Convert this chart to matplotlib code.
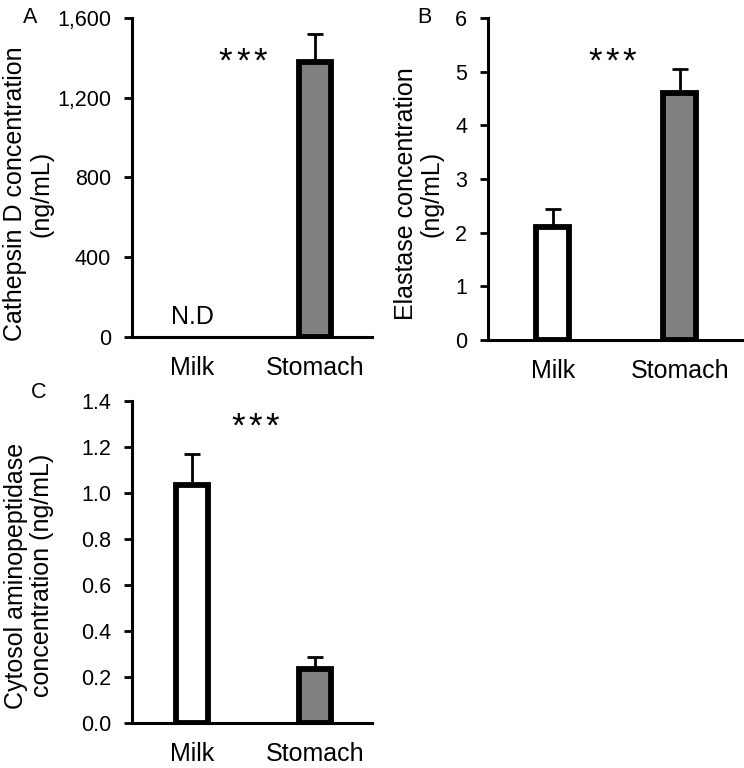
import matplotlib.pyplot as plt
from matplotlib.ticker import StrMethodFormatter

plt.rcParams['font.family'] = ['Liberation Sans', 'DejaVu Sans']
plt.rcParams['font.size'] = 17

# data
groups = ['Milk', 'Stomach']
bar_colors = ['white', '#808080']

cathepsin = [0, 1380]
cathepsin_err = [0, 140]
elastase = [2.10, 4.61]
elastase_err = [0.34, 0.44]
aminopep = [1.033, 0.233]
aminopep_err = [0.137, 0.054]

fig = plt.figure(figsize=(7.44, 7.68), dpi=100)


def draw_panel(rect, values, errs, ymax, ystep, fmt, ylabel, label_pos, letter, letter_pos,
               stars_pos, xlim):
    ax = fig.add_axes(rect)
    for i, (v, e) in enumerate(zip(values, errs)):
        if v == 0:
            # not detected
            ax.text(i, ymax * 0.0625, 'N.D', ha='center', va='center', fontsize=18)
            continue
        ax.errorbar(i, v, yerr=[[0], [e]], fmt='none', ecolor='black',
                    elinewidth=2.0, capsize=6, capthick=2.0, zorder=1)
        ax.bar(i, v, width=0.26, color=bar_colors[i], edgecolor='black',
               linewidth=4.2, zorder=2)
    ax.set_xlim(*xlim)
    ax.set_ylim(0, ymax)
    ax.set_yticks([ystep * k for k in range(int(round(ymax / ystep)) + 1)])
    ax.yaxis.set_major_formatter(StrMethodFormatter(fmt))
    ax.set_xticks(range(len(groups)))
    ax.set_xticklabels(groups, fontsize=18)
    ax.tick_params(axis='x', length=0, pad=14)
    ax.tick_params(axis='y', direction='out', length=6, width=2.0, pad=9, labelsize=15.5)
    for s in ['top', 'right']:
        ax.spines[s].set_visible(False)
    for s in ['left', 'bottom']:
        ax.spines[s].set_linewidth(2.2)
    ax.spines['left'].set_zorder(3)
    ax.text(label_pos[0], label_pos[1], ylabel, transform=ax.transAxes, rotation=90,
            ha='center', va='center', fontsize=18, linespacing=1.1, multialignment='center')
    ax.text(letter_pos[0], letter_pos[1], letter, transform=ax.transAxes,
            ha='center', va='center', fontsize=15.5)
    # significance stars, spaced like the original
    for k in (-1, 0, 1):
        ax.annotate('*', xy=stars_pos, xytext=(k * 12.3, 0), textcoords='offset points',
                    ha='center', va='baseline', fontsize=25)
    return ax


draw_panel([0.1774, 0.5612, 0.3226, 0.4154], cathepsin, cathepsin_err, 1600, 400, '{x:,.0f}',
           'Cathepsin D concentration\n(ng/mL)', (-0.433, 0.448), 'A', (-0.425, 1.0),
           (0.41, 1330), (-0.49, 1.46))

draw_panel([0.6559, 0.5573, 0.3414, 0.4193], elastase, elastase_err, 6, 1, '{x:.0f}',
           'Elastase concentration\n(ng/mL)', (-0.272, 0.453), 'B', (-0.25, 1.0),
           (0.47, 5.0), (-0.51, 1.49))

draw_panel([0.1774, 0.0586, 0.3226, 0.4193], aminopep, aminopep_err, 1.4, 0.2, '{x:.1f}',
           'Cytosol aminopeptidase\nconcentration (ng/mL)', (-0.429, 0.457), 'C', (-0.39, 1.025),
           (0.51, 1.245), (-0.49, 1.46))

fig.savefig('out.png', dpi=100)
